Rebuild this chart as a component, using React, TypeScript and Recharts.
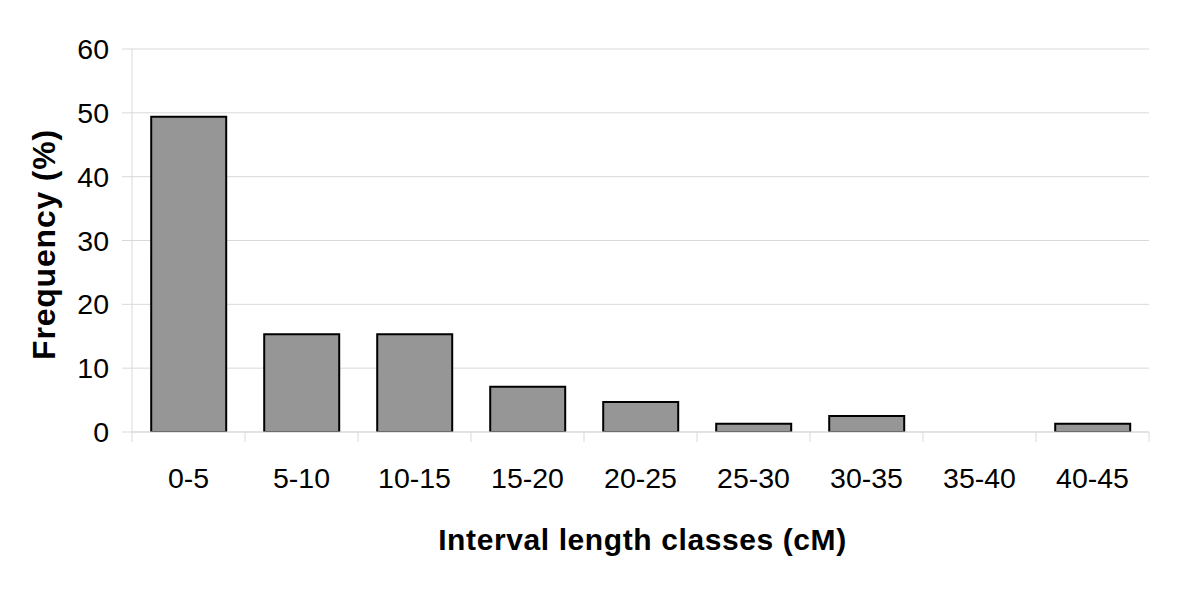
import React from 'react';
import { BarChart, Bar, XAxis, YAxis, CartesianGrid } from 'recharts';

const categories = ['0-5', '5-10', '10-15', '15-20', '20-25', '25-30', '30-35', '35-40', '40-45'];
const frequency = [49.4, 15.3, 15.3, 7.1, 4.7, 1.3, 2.5, 0, 1.3];
const yTicks = [0, 10, 20, 30, 40, 50, 60];

const data = categories.map((c, i) => ({ cls: c, freq: frequency[i] }));

const FONT = '"Liberation Sans", Arial, Helvetica, sans-serif';
const X_TICK_SIZE = 10;
const X_TICK_MARGIN = 36;

const XTick = (props: any) => {
  const { x, y, payload, index, visibleTicksCount } = props;
  const half = payload.offset || 0;
  const axisY = y - X_TICK_MARGIN - X_TICK_SIZE;
  const isLast = index === visibleTicksCount - 1;
  return (
    <g>
      <line x1={x - half} x2={x - half} y1={axisY} y2={axisY + X_TICK_SIZE} stroke="#d9d9d9" strokeWidth={1} />
      {isLast && (
        <line x1={x + half} x2={x + half} y1={axisY} y2={axisY + X_TICK_SIZE} stroke="#d9d9d9" strokeWidth={1} />
      )}
      <text x={x} y={y} dy="0.36em" textAnchor="middle" fill="#000" fontSize={28.5} fontFamily={FONT}>
        {payload.value}
      </text>
    </g>
  );
};

const XTitle = (props: any) => {
  const vb = props.viewBox;
  return (
    <text
      x={vb.x + vb.width / 2 + 2}
      y={vb.y + 118}
      textAnchor="middle"
      fill="#000"
      fontSize={30}
      fontWeight="bold"
      fontFamily={FONT}
      letterSpacing={0.6}
    >
      Interval length classes (cM)
    </text>
  );
};

const YTitle = (props: any) => {
  const vb = props.viewBox;
  const cx = 55;
  const cy = vb.y + vb.height / 2 + 4;
  return (
    <text
      x={cx}
      y={cy}
      transform={`rotate(-90, ${cx}, ${cy})`}
      textAnchor="middle"
      fill="#000"
      fontSize={32}
      fontWeight="bold"
      fontFamily={FONT}
      letterSpacing={0.8}
    >
      Frequency (%)
    </text>
  );
};

export default function App() {
  return (
    <div style={{ position: 'absolute', left: 0, top: 0, width: 1200, height: 605, background: '#fff' }}>
      <BarChart
        width={1200}
        height={605}
        data={data}
        margin={{ top: 49, right: 51, bottom: 0, left: 0 }}
        barCategoryGap="17%"
      >
        <CartesianGrid vertical={false} stroke="#d9d9d9" strokeWidth={1} />
        <XAxis
          dataKey="cls"
          height={173}
          axisLine={{ stroke: '#d9d9d9', strokeWidth: 1 }}
          tickLine={false}
          tickSize={X_TICK_SIZE}
          tickMargin={X_TICK_MARGIN}
          tick={<XTick />}
          interval={0}
          label={<XTitle />}
        />
        <YAxis
          width={132}
          domain={[0, 60]}
          ticks={yTicks}
          allowDataOverflow
          axisLine={{ stroke: '#d9d9d9', strokeWidth: 1 }}
          tickLine={{ stroke: '#d9d9d9', strokeWidth: 1 }}
          tickSize={10}
          tickMargin={13}
          tick={{ fill: '#000', fontSize: 28.5, fontFamily: FONT }}
          label={<YTitle />}
        />
        <Bar dataKey="freq" fill="#969696" stroke="#000" strokeWidth={2} isAnimationActive={false} />
      </BarChart>
    </div>
  );
}
